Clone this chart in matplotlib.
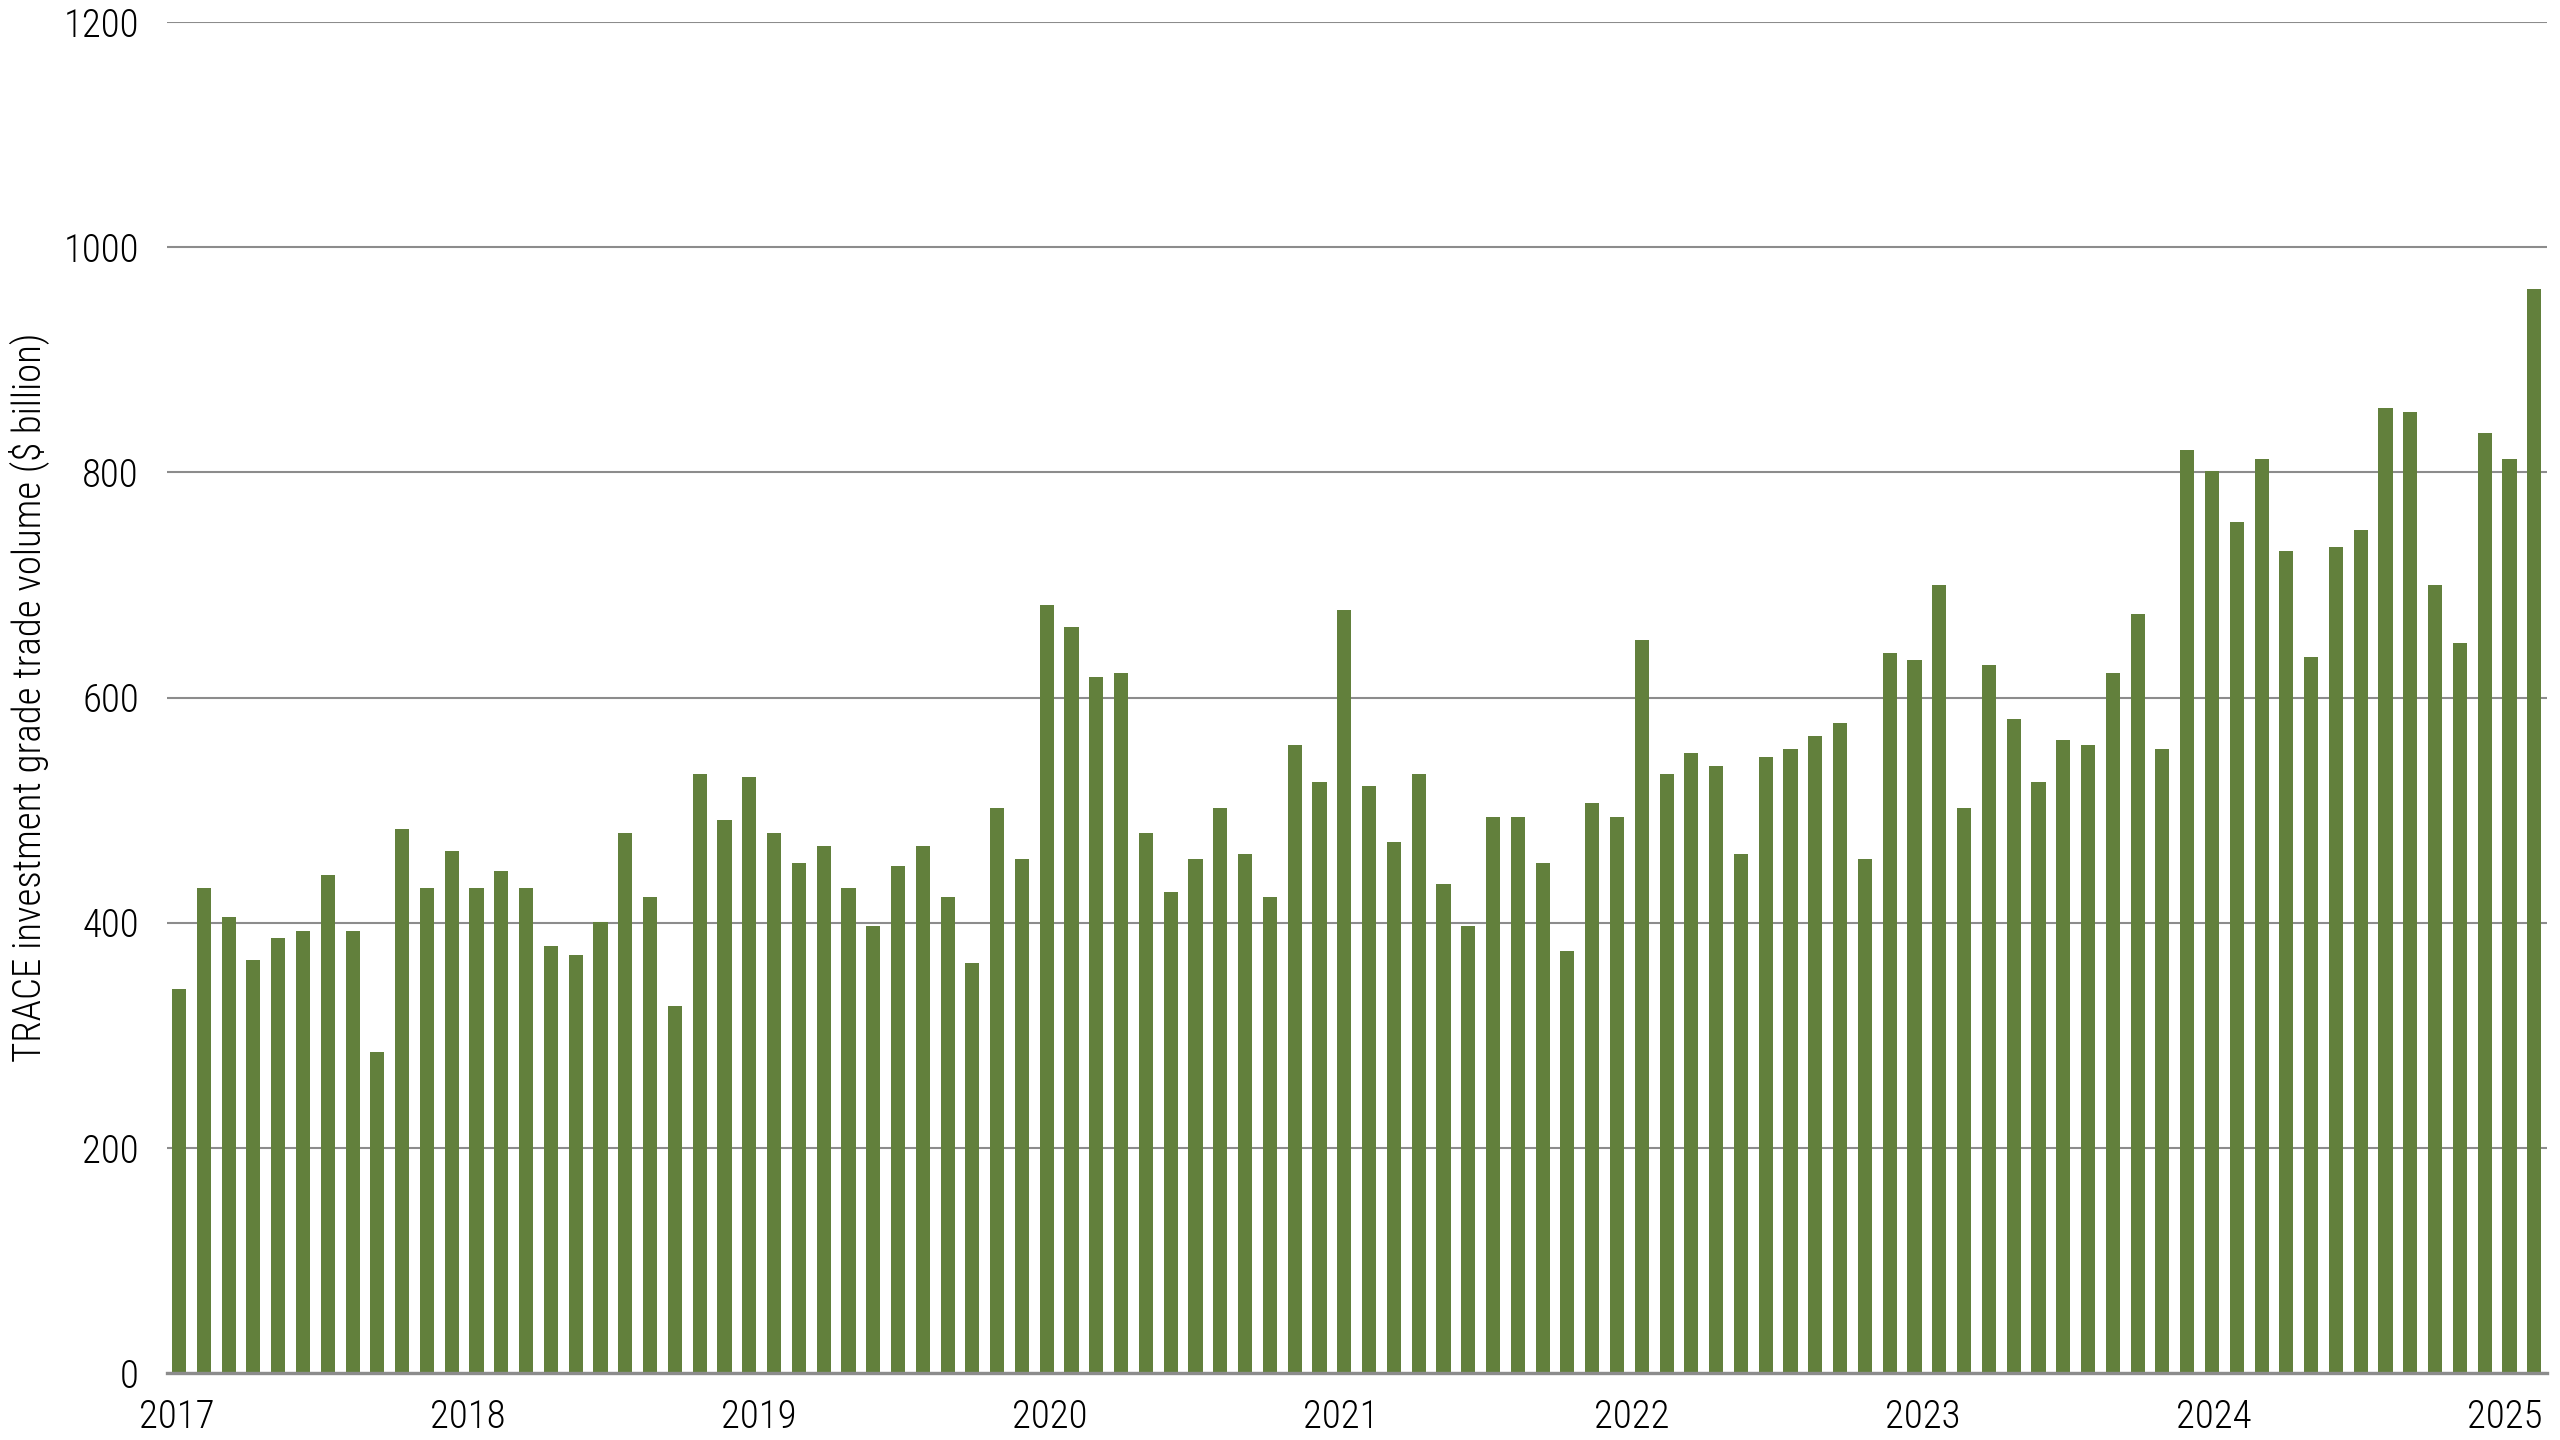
import numpy as np
import matplotlib
matplotlib.use("Agg")
import matplotlib.pyplot as plt

plt.rcParams['font.family'] = ['Roboto Condensed', 'Liberation Sans Narrow', 'Roboto']
plt.rcParams['font.stretch'] = 'condensed'
plt.rcParams['font.weight'] = 'light'

# Monthly TRACE investment grade trade volume ($ billion)
volume = [
    341, 431, 405, 367, 386, 393, 442, 393, 285, 483, 431, 464,
    431, 446, 431, 379, 371, 401, 480, 423, 326, 532, 491, 529,
    480, 453, 468, 431, 397, 450, 468, 423, 364, 502, 457, 682,
    663, 618, 622, 480, 427, 457, 502, 461, 423, 558, 525, 678,
    521, 472, 532, 434, 397, 494, 494, 453, 375, 506, 494, 651,
    532, 551, 539, 461, 547, 554, 566, 577, 457, 640, 633, 700,
    502, 629, 581, 525, 562, 558, 622, 674, 554, 820, 801, 756,
    812, 730, 636, 734, 749, 857, 854, 700, 648, 835, 812, 963,
]
years = ['2017', '2018', '2019', '2020', '2021', '2022', '2023', '2024', '2025']
y_ticks = [0, 200, 400, 600, 800, 1000, 1200]
y_title = 'TRACE investment grade trade volume ($ billion)'

bar_color = '#62803c'
grid_color = '#8c8c8c'

fig = plt.figure(figsize=(25.6, 14.4), dpi=100)
ax = fig.add_axes([0.0651, 0.0465, 0.9297, 0.9382])

x = np.arange(len(volume))
ax.bar(x, volume, width=0.57, color=bar_color, zorder=2)

ax.set_xlim(-0.5, len(volume) - 0.5)
ax.set_ylim(0, 1200)
ax.set_yticks(y_ticks)
ax.set_yticklabels([str(v) for v in y_ticks])

# year labels spread evenly along the axis, as in the original
year_step = 11.74
ax.set_xticks(np.arange(len(years)) * year_step - 0.1)
ax.set_xticklabels(years)

ax.grid(axis='y', color=grid_color, linewidth=1.5, zorder=0)
ax.set_axisbelow(True)
for s in ['top', 'right', 'left']:
    ax.spines[s].set_visible(False)
ax.spines['bottom'].set_color(grid_color)
ax.spines['bottom'].set_linewidth(2.4)
ax.spines['bottom'].set_zorder(3)

ax.tick_params(axis='both', length=0, labelsize=28, colors='black')
ax.tick_params(axis='y', pad=20)
ax.tick_params(axis='x', pad=18)

# axis title; shrink it if the font found is wider than the original's
ylab = fig.text(29 / 2560, 0.5 + 0.0465 / 2 - 0.0153 / 2, y_title, rotation=90,
                ha='center', va='center', fontsize=28)
fig.canvas.draw()
h = ylab.get_window_extent().height
if h > 800:
    ylab.set_fontsize(28 * 800 / h)

fig.savefig('out.png', dpi=100, facecolor='white')
plt.close(fig)
